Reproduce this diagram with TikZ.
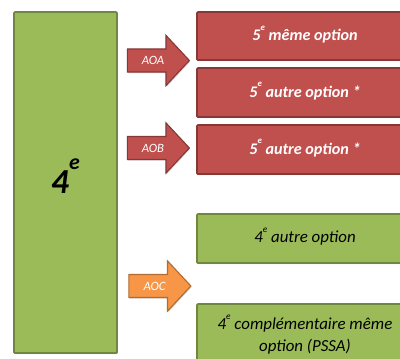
\documentclass[tikz,border=0pt]{standalone}
\usepackage{fontspec}
\setmainfont{Carlito}
\usetikzlibrary{shapes.arrows,shadows}
\newcommand{\ord}[1]{\raisebox{1.3ex}[0pt][0pt]{\scalebox{0.55}{#1}}}
\begin{document}
\begin{tikzpicture}[x=0.25mm, y=-0.25mm,
  box/.style = {rectangle, rounded corners=0.6pt, line width=1.1pt, inner sep=0pt,
    drop shadow={shadow xshift=0.6pt, shadow yshift=-0.8pt, opacity=0.3}},
  redbox/.style = {box, fill=boxred, draw=boxred!70!black, text=white,
    font=\fontsize{11.5}{13.5}\selectfont\bfseries\itshape},
  greenbox/.style = {box, fill=boxgreen, draw=boxgreen!72!black, text=black,
    font=\fontsize{12}{15}\selectfont\itshape, align=center},
  arrowlabel/.style = {single arrow, single arrow head extend=3.4mm,
    single arrow tip angle=94, minimum height=15.5mm, text height=5.8pt,
    text depth=0pt, inner ysep=4.9pt, inner xsep=0pt, line width=0.8pt,
    text=white, font=\fontsize{9}{10}\selectfont\itshape,
    drop shadow={shadow xshift=0.6pt, shadow yshift=-0.8pt, opacity=0.3}}]
\definecolor{boxred}{HTML}{C0504D}
\definecolor{boxgreen}{HTML}{9BBB59}
\definecolor{boxorange}{HTML}{F79646}
\useasboundingbox (0,0) rectangle (400,358);
\clip (0,0) rectangle (400,358);
% left column
\node[greenbox, minimum width=25.75mm, minimum height=85.25mm,
  font=\fontsize{25}{28}\selectfont\bfseries\itshape] (quatrieme) at (65.5, 182.5)
  {4\raisebox{1.45ex}[0pt][0pt]{\scalebox{0.62}{e}}};
% right column, red
\node[redbox, minimum width=54mm, minimum height=12mm] (memeoption) at (305, 36) {5\ord{e} même option};
\node[redbox, minimum width=54mm, minimum height=12.25mm] (autreA) at (305, 92.5) {5\ord{e} autre option *};
\node[redbox, minimum width=54mm, minimum height=12.25mm] (autreB) at (305, 149.5) {5\ord{e} autre option *};
% right column, green
\node[greenbox, minimum width=54mm, minimum height=12.25mm] (autrequatre) at (305, 238.5) {4\ord{e} autre option};
\node[greenbox, minimum width=54mm, minimum height=16mm, inner ysep=4pt] (complementaire) at (305, 336) {4\ord{e} complémentaire même\\option (PSSA)};
% arrows
\node[arrowlabel, fill=boxred, draw=boxred!70!black] (aoa) at (153, 60.5) {AOA};
\node[arrowlabel, fill=boxred, draw=boxred!70!black] (aob) at (153, 148) {AOB};
\node[arrowlabel, fill=boxorange, draw=boxorange!72!black] (aoc) at (154.5, 286) {AOC};
\end{tikzpicture}
\end{document}
